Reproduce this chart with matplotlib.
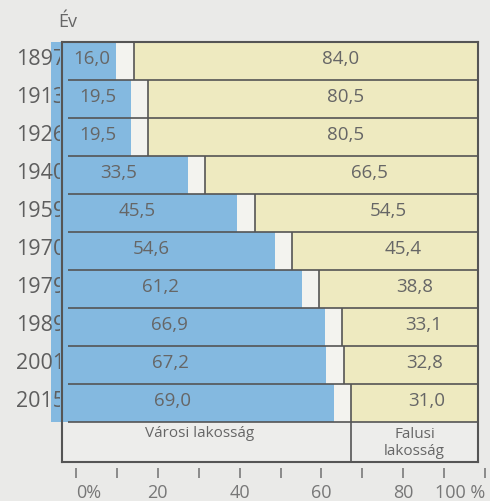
import matplotlib
matplotlib.use('Agg')
import matplotlib.pyplot as plt
from matplotlib.transforms import Bbox, TransformedBbox, blended_transform_factory

plt.rcParams['font.family'] = ['Open Sans', 'DejaVu Sans']

# Urban / rural population share (%)
years = ['1897', '1913', '1926', '1940', '1959', '1970', '1979', '1989', '2001', '2015']
urban = [16.0, 19.5, 19.5, 33.5, 45.5, 54.6, 61.2, 66.9, 67.2, 69.0]
rural = [84.0, 80.5, 80.5, 66.5, 54.5, 45.4, 38.8, 33.1, 32.8, 31.0]
scale_ticks = [0, 20, 40, 60, 80, 100]
scale_labels = ['0%', '20', '40', '60', '80', '100 %']

page = '#EAEAE8'
paper = '#F3F3EF'
blue = '#84B9E0'
yellow = '#EEEAC0'
line = '#555555'
txt = '#666666'

W, H = 490, 501
fig = plt.figure(figsize=(W / 100, H / 100), dpi=100, facecolor=page)

def px_rect(x0, y0, x1, y1):
    return [x0 / W, 1 - y1 / H, (x1 - x0) / W, (y1 - y0) / H]

ax = fig.add_axes(px_rect(62, 42, 478, 462))
ax.set_facecolor('#EDEDEB')
px_per_unit = 4.1
ax.set_xlim(-6 / px_per_unit, 100)
n = len(years)
strip = 40 / 38
ax.set_ylim(n - 0.5 + strip, -0.5)

rows = list(range(n))
shift = 4.2  # blue print sits a little left of the outline

ax.barh(rows, [100] * n, left=0, height=1, color=paper, zorder=1)
ax.barh(rows, rural, left=urban, height=1, color=yellow, zorder=2)
ax.barh(rows, urban, left=-shift, height=1, color=blue, zorder=2, clip_on=False)

ax.hlines([i - 0.5 for i in rows] + [n - 0.5], 0, 100, color=line, lw=1.2, zorder=3)
ax.vlines(urban, [i - 0.5 for i in rows], [i + 0.5 for i in rows], color=line, lw=1.2, zorder=3)
ax.vlines(urban[-1], n - 0.5, n - 0.5 + strip, color=line, lw=1.2, zorder=3)

for i, (u, r) in enumerate(zip(urban, rural)):
    ax.text(0.37 * u, i - 0.04, f'{u:.1f}'.replace('.', ','), ha='center', va='center',
            fontsize=13.5, color=txt, zorder=4)
    ax.text(100 - 0.4 * r, i - 0.04, f'{r:.1f}'.replace('.', ','), ha='center', va='center',
            fontsize=13.5, color=txt, zorder=4)

ax.text(32, n - 0.5 + 0.3, 'Városi lakosság', ha='center', va='center',
        fontsize=11, color=txt, zorder=4)
ax.text((urban[-1] + 100) / 2, n - 0.5 + 0.55, 'Falusi\nlakosság', ha='center',
        va='center', fontsize=11, color=txt, linespacing=1.2, zorder=4)

for s in ax.spines.values():
    s.set_color(line)
    s.set_linewidth(1.5)
    s.set_zorder(5)
ax.set_xticks([])
ax.set_yticks([])

# year labels, cut off by the frame edge
clip = TransformedBbox(Bbox([[0, 0], [60 / W, 1]]), fig.transFigure)
year_tr = blended_transform_factory(fig.transFigure, ax.transData)
for i, y in enumerate(years):
    t = fig.text(65 / W, i - 0.05, y, transform=year_tr, ha='right', va='center',
                 fontsize=15.5, color='#5E5E5E', zorder=4)
    t.set_clip_box(clip)
    t.set_clip_on(True)

fig.text(68 / W, 1 - 22 / H, 'Év', ha='center', va='center', fontsize=13, color=txt)

# percentage scale under the chart
sc = fig.add_axes(px_rect(76, 477, 485, 477.5))
sc.set_xlim(0, 100)
sc.patch.set_visible(False)
for s in sc.spines.values():
    s.set_visible(False)
sc.set_yticks([])
sc.set_xticks(scale_ticks)
sc.set_xticks(range(10, 100, 20), minor=True)
sc.set_xticklabels(scale_labels, fontsize=13, color='#777777')
sc.tick_params(axis='x', which='both', direction='in', length=7.5, width=1.4,
               color='#8A8A8A', pad=5)
labels = sc.get_xticklabels()
labels[0].set_ha('left')
labels[0].set_x(-1.2)
labels[-1].set_ha('right')

fig.savefig('out.png', dpi=100, facecolor=page)
